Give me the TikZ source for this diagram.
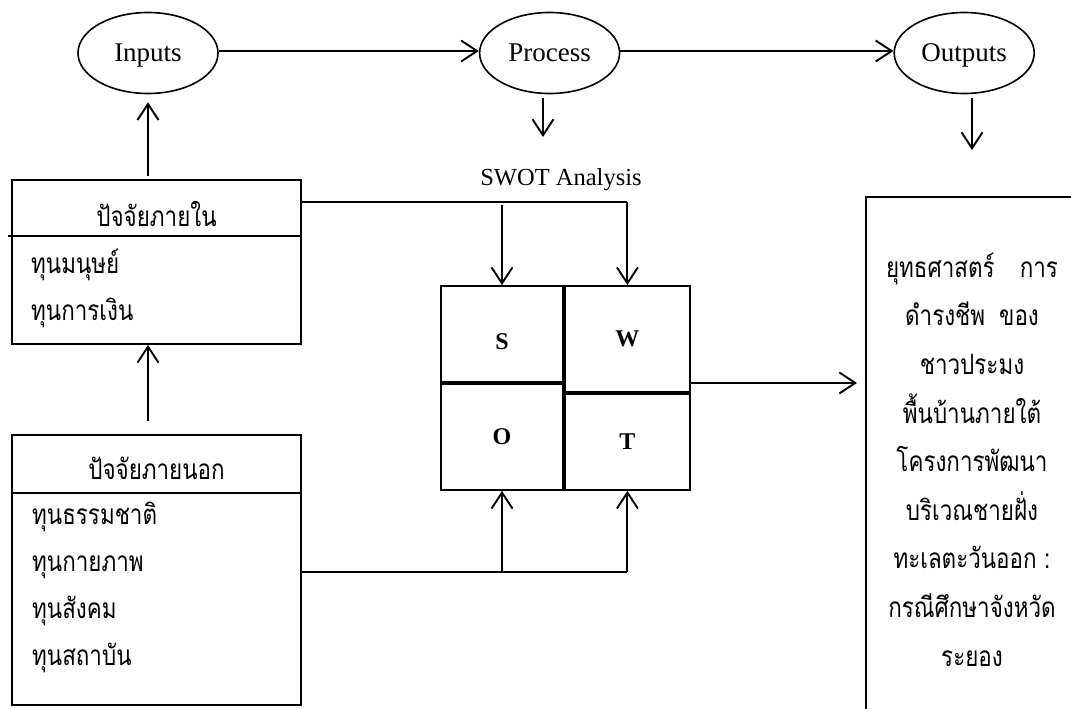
\documentclass[tikz,border=0pt]{standalone}
\usepackage{fontspec}
\setmainfont{Liberation Serif}
\newfontfamily\thai[Script=Thai, FakeStretch=0.8]{Loma}
\usepackage{tikz}
\usetikzlibrary{positioning}
\usetikzlibrary{shapes.geometric,arrows.meta}
\tikzstyle{stage} = [ellipse, draw, line width=1.6pt, minimum width=140pt,
minimum height=81pt, inner sep=0pt, text depth=0pt, font=\fontsize{27}{30}\selectfont]
\tikzstyle{panel} = [rectangle, draw, line width=1.9pt, inner sep=0pt]
\tikzstyle{cell} = [rectangle, draw, line width=1.9pt, inner sep=0pt,
font=\bfseries\fontsize{24}{26}\selectfont]
\tikzstyle{thaitext} = [inner sep=0pt, font=\thai\fontsize{28}{47}\selectfont]
\tikzstyle{line} = [draw, line width=1.9pt, -{Straight Barb[length=16pt, width=21pt]}]

\begin{document}
\begin{tikzpicture}[x=1pt, y=-1pt]
    \useasboundingbox (0,0) rectangle (1071,709);
    \clip (0,0) rectangle (1071,709);
    % nodes
    \node (inp) [stage] at (148,53) {Inputs};
    \node (proc) [stage, right=260pt of inp] {Process};
    \node (outp) [stage, right=273pt of proc] {Outputs};
    \node (swotlbl) [font=\fontsize{24.5}{28}\selectfont] at (561,180) {SWOT Analysis};

    \node (intbox) [panel, minimum width=289pt, minimum height=164pt] at (156.5,262) {};
    \node (inthead) [thaitext] at (intbox.center |- 0,214) {ปัจจัยภายใน};
    \node (intlist) [thaitext, align=left, anchor=west] at (31,288.5) {ทุนมนุษย์\\ทุนการเงิน};

    \node (extbox) [panel, minimum width=289pt, minimum height=270pt, below=89pt of intbox] {};
    \node (exthead) [thaitext] at (extbox.center |- 0,468) {ปัจจัยภายนอก};
    \node (extlist) [thaitext, align=left, anchor=west] at (32,587.5) {ทุนธรรมชาติ\\ทุนกายภาพ\\ทุนสังคม\\ทุนสถาบัน};

    \node (S) [cell, minimum width=122pt, minimum height=96pt, text height=32pt] at (502,334) {S};
    \node (O) [cell, minimum width=122pt, minimum height=106pt, below=0pt of S] {O};
    \node (W) [cell, minimum width=125pt, minimum height=106pt, anchor=north west] at (S.north east) {W};
    \node (T) [cell, minimum width=125pt, minimum height=96pt, below=0pt of W] {T};

    \node (strat) [panel, thaitext, align=center, minimum width=212pt, minimum height=525pt,
    font=\thai\fontsize{28}{48.6}\selectfont] at (972,459.5)
    {ยุทธศาสตร์\hspace{0.9em}การ\\ดำรงชีพ\hspace{0.5em}ของ\\ชาวประมง\\พื้นบ้านภายใต้\\โครงการพัฒนา\\บริเวณชายฝั่ง\\ทะเลตะวันออก :\\กรณีศึกษาจังหวัด\\ระยอง};

    \coordinate (procend) at (543,137);
    \coordinate (outend) at (972,150);
    \coordinate (jIn) at (W.north |- 0,202);
    \coordinate (jOut) at (T.south |- 0,572);
    \coordinate (wout) at ([yshift=10pt]W.south east);

    % dividers
    \draw[line width=1.9pt] (intbox.west |- 0,236) ++(-3.5,0) -- (intbox.east |- 0,236);
    \draw[line width=1.9pt] (extbox.west |- 0,493) -- (extbox.east |- 0,493);

    % edges
    \path [line] (inp.east |- 0,51) -- (proc.west |- 0,51);
    \path [line] (proc.east |- 0,51) -- (outp.west |- 0,51);
    \path [line, shorten <=4pt] (proc.south -| procend) -- (procend);
    \path [line, shorten <=4pt] (outp.south -| outend) -- (outend);
    \path [line, shorten <=3pt, shorten >=8pt] (intbox.north -| inp.south) -- (inp.south);
    \path [line, shorten <=13pt] (extbox.north -| inp.south) -- (intbox.south -| inp.south);
    \draw [line width=1.9pt] (intbox.east |- jIn) -- (jIn);
    \path [line] (jIn) -- (W.north);
    \path [line, shorten <=3pt] (S.north |- jIn) -- (S.north);
    \draw [line width=1.9pt] (extbox.east |- jOut) -- (jOut);
    \path [line] (jOut) -- (T.south);
    \path [line] (O.south |- jOut) -- (O.south);
    \path [line, shorten >=8pt] (wout) -- (wout -| strat.west);

\end{tikzpicture}
\end{document}
